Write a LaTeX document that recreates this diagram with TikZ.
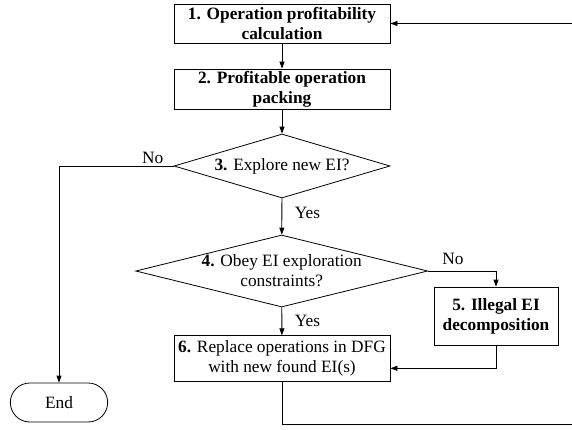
\documentclass[tikz,border=0pt]{standalone}
\usepackage{fontspec}
\setmainfont{Liberation Serif}
\usetikzlibrary{arrows.meta,shapes.geometric,shapes.misc}

\begin{document}
\begin{tikzpicture}[x=1pt, y=-1pt, >={Triangle[length=7pt,width=5pt]},
    every node/.style={font=\fontsize{17.3}{20}\selectfont}]
  \tikzstyle{stepbox}=[rectangle, draw, line width=0.8pt, inner sep=0pt, align=center]
  \tikzstyle{decision}=[diamond, draw, line width=0.8pt, inner sep=0pt, align=center]
  \tikzstyle{flow}=[->, line width=0.8pt]
  \clip (0,0) rectangle (572,429);
  \node[stepbox, minimum width=216pt, minimum height=39pt] (b1) at (282, 23.5)
    {\textbf{1. Operation profitability}\\\textbf{calculation}};
  \node[stepbox, minimum width=216pt, minimum height=40pt] (b2) at (282, 89)
    {\textbf{2. Profitable operation}\\\textbf{packing}};
  \node[decision, aspect=3.375, minimum width=216pt, minimum height=64pt] (d3) at (282, 166)
    {\textbf{3.} Explore new EI?};
  \node[decision, aspect=4.06, minimum width=292pt, minimum height=72pt] (d4) at (281.7, 271)
    {\textbf{4.} Obey EI exploration\\constraints?};
  \node[stepbox, minimum width=124pt, minimum height=58pt] (b5) at (496, 316)
    {\textbf{5. Illegal EI}\\\textbf{decomposition}};
  \node[stepbox, minimum width=216pt, minimum height=46pt] (b6) at (282, 358.7)
    {\textbf{6.} Replace operations in DFG\\with new found EI(s)};
  \node[rounded rectangle, draw, line width=0.8pt, minimum width=104pt, minimum height=39pt] (endn) at (59, 402.5) {End};
  \node (no3) at (152.7, 157.6) {No};
  \node (yes3) at (307.5, 213) {Yes};
  \node (no4) at (453, 259) {No};
  \node (yes4) at (307.5, 320.7) {Yes};
  \coordinate (r1) at (580, 424);
  \coordinate (r2) at (580, 23.5);
  \draw[flow] (b1) -- (b2);
  \draw[flow] (b2) -- (d3);
  \draw[flow] (d3.west) -| (endn.north);
  \draw[flow] (d3) -- (d4);
  \draw[flow] (d4.east) -| (b5.north);
  \draw[flow] (d4) -- (b6);
  \draw[flow] (b5.south) |- ([yshift=-9.6pt]b6.east);
  \draw[flow] (b6.south) |- (r1) -- (r2) -- (b1.east);
\end{tikzpicture}
\end{document}
